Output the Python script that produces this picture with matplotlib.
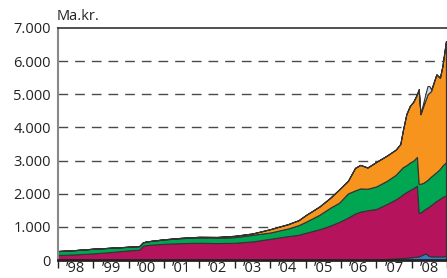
import matplotlib
matplotlib.use("Agg")
import matplotlib.pyplot as plt
import numpy as np

# time axis (decimal years)
t = [1998.0, 1998.5, 1999.0, 1999.5, 2000.0, 2000.3, 2000.4, 2000.5, 2001.0, 2001.5,
     2002.0, 2002.5, 2003.0, 2003.5, 2004.0, 2004.5, 2004.8, 2005.0, 2005.4, 2005.7,
     2005.95, 2006.2, 2006.4, 2006.55, 2006.75, 2007.0, 2007.3, 2007.55, 2007.68, 2007.75,
     2007.85, 2007.95, 2008.05, 2008.15, 2008.2, 2008.25, 2008.33, 2008.4, 2008.45, 2008.5,
     2008.55, 2008.7, 2008.8, 2008.87, 2008.97]

# series values (mio. kr.), bottom to top
blue = [0, 0, 0, 0, 0, 0, 0, 0, 0, 0,
        0, 0, 0, 0, 0, 0, 0, 0, 0, 0,
        0, 0, 0, 0, 0, 20, 30, 50, 60, 60,
        70, 80, 90, 100, 110, 130, 170, 200, 150, 120,
        110, 110, 110, 110, 120]
magenta = [150, 170, 200, 240, 290, 310, 430, 450, 490, 510,
           520, 510, 520, 560, 640, 720, 760, 820, 930, 1040,
           1150, 1280, 1400, 1460, 1500, 1520, 1660, 1780, 1860, 1920,
           1980, 2030, 2080, 2140, 1310, 1300, 1330, 1350, 1430, 1500,
           1550, 1670, 1740, 1790, 1830]
green = [120, 130, 140, 130, 110, 110, 100, 110, 130, 150,
         160, 160, 170, 200, 190, 230, 290, 330, 440, 540,
         580, 730, 700, 700, 650, 680, 700, 740, 800, 820,
         810, 830, 830, 870, 880, 870, 830, 830, 840, 850,
         860, 870, 900, 950, 1000]
orange = [0, 0, 0, 0, 0, 0, 0, 0, 5, 10,
          20, 25, 40, 40, 100, 130, 150, 200, 250, 300,
          400, 380, 680, 710, 640, 740, 760, 760, 780, 1100,
          1540, 1710, 1780, 1890, 2850, 2100, 2320, 2470, 2580, 2580,
          2580, 2950, 2750, 3000, 3650]
lightblue = [0, 0, 0, 0, 0, 0, 0, 0, 0, 0,
             0, 0, 0, 0, 0, 0, 0, 0, 0, 0,
             0, 0, 0, 0, 0, 0, 0, 0, 0, 0,
             0, 0, 0, 0, 0, 0, 100, 200, 250, 200,
             50, 0, 0, 0, 0]

colors = ["#3a7cc4", "#b5145c", "#00a651", "#f7941d", "#cdd9e6"]
year_labels = ["\u201998", "\u201999", "\u201900", "\u201901", "\u201902", "\u201903",
               "\u201904", "\u201905", "\u201906", "\u201907", "\u201908"]
yticks = [0, 1000, 2000, 3000, 4000, 5000, 6000, 7000]
ytick_labels = ["0", "1.000", "2.000", "3.000", "4.000", "5.000", "6.000", "7.000"]

plt.rcParams['font.family'] = ['Open Sans', 'DejaVu Sans']
FS = 10.5

fig = plt.figure(figsize=(4.47, 2.78), dpi=100)
ax = fig.add_axes([58/447, 1 - 260/278, 1 - 58/447, (260 - 28)/278])

ax.stackplot(t, blue, magenta, green, orange, lightblue, colors=colors,
             edgecolor="#333333", linewidth=0.8, zorder=2)

ax.set_xlim(1998, 2009)
ax.set_ylim(0, 7000)

# gridlines
for v in yticks[1:-1]:
    ax.axhline(v, color="#4a4a4a", lw=1.0, dashes=(7, 5), zorder=1)

ax.set_yticks(yticks)
ax.set_yticklabels(ytick_labels, fontsize=FS, color="#222222")
ax.tick_params(axis='y', length=0, pad=5)

years = np.arange(1998, 2010)
ax.set_xticks(years)
ax.set_xticklabels([])
ax.set_xticks(np.arange(1998.5, 2009.0, 1.0), minor=True)
ax.set_xticklabels(year_labels, minor=True, fontsize=FS, color="#222222")
ax.tick_params(axis='x', which='major', length=6, width=1, color="#222222", direction='out')
ax.tick_params(axis='x', which='minor', length=0, pad=1)

ax.spines["right"].set_visible(False)
ax.spines["top"].set_color("#333333")
ax.spines["top"].set_linewidth(1.2)
ax.spines["left"].set_color("#888888")
ax.spines["left"].set_linewidth(1.5)
ax.spines["bottom"].set_color("#222222")
ax.spines["bottom"].set_linewidth(2)
for s in ax.spines.values():
    s.set_zorder(3)

fig.text(57/447, 1 - 16/278, "Ma.kr.", fontsize=FS, color="#222222", va="center", ha="left")

fig.savefig("out.png", dpi=100)
